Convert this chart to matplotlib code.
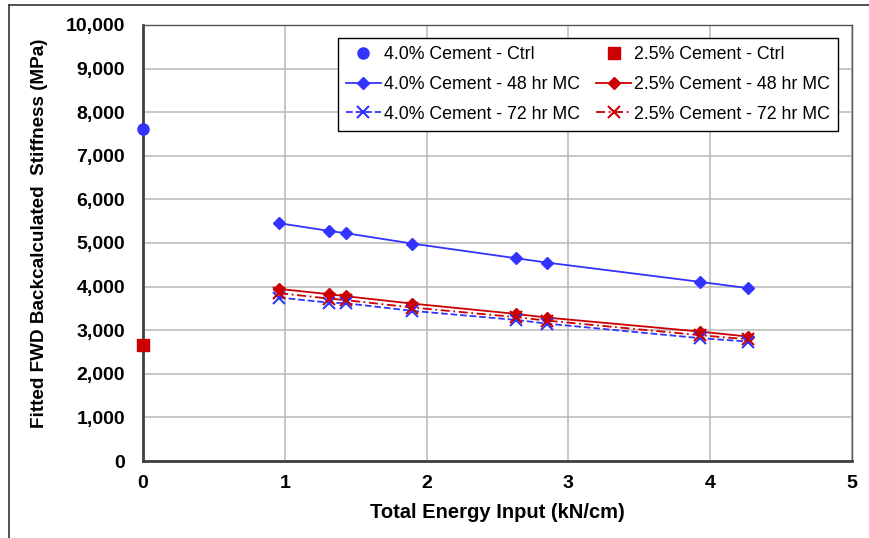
import numpy as np
import matplotlib
matplotlib.use("Agg")
import matplotlib.pyplot as plt
from matplotlib.lines import Line2D
from matplotlib.ticker import FuncFormatter, MultipleLocator

plt.rcParams['font.family'] = ['Liberation Sans', 'DejaVu Sans']

# energy input (kN/cm)
energy = [0.96, 1.31, 1.43, 1.90, 2.63, 2.85, 3.93, 4.27]

# control points at zero energy
ctrl_x = [0.0]
ctrl_40 = [7615]
ctrl_25 = [2665]

# fitted stiffness (MPa)
c40_48 = [5454, 5278, 5225, 4986, 4651, 4550, 4108, 3963]
c25_48 = [3947, 3826, 3780, 3610, 3374, 3289, 2968, 2853]
c40_72 = [3748, 3633, 3619, 3443, 3236, 3151, 2817, 2739]
c25_72 = [3850, 3725, 3690, 3520, 3300, 3220, 2885, 2790]

blue = "#3333ff"
red = "#cc0000"

fig = plt.figure(figsize=(8.69, 5.38), dpi=100)
ax = fig.add_axes([143/869, 1-461/538, (852-143)/869, (461-25)/538])

l1, = ax.plot(ctrl_x, ctrl_40, "o", color=blue, ms=8, clip_on=False, zorder=5)
l2, = ax.plot(ctrl_x, ctrl_25, "s", color=red, ms=8, clip_on=False, zorder=5)
l3, = ax.plot(energy, c40_48, "-D", color=blue, lw=1.3, ms=6)
l4, = ax.plot(energy, c25_48, "-D", color=red, lw=1.3, ms=6)
l5, = ax.plot(energy, c40_72, "--x", color=blue, lw=1.3, ms=8, mew=1.5)
l6, = ax.plot(energy, c25_72, "-.x", color=red, lw=1.3, ms=8, mew=1.5,
              dashes=(5, 2, 1, 2))

ax.set_xlim(0, 5)
ax.set_ylim(0, 10000)
ax.xaxis.set_major_locator(MultipleLocator(1))
ax.yaxis.set_major_locator(MultipleLocator(1000))
ax.yaxis.set_major_formatter(FuncFormatter(lambda v, p: "{:,.0f}".format(v)))
ax.grid(True, color="#bdbdbd", lw=1.2)
ax.set_axisbelow(True)
ax.tick_params(length=0, labelsize=14)
ax.tick_params(axis="y", pad=13)
ax.tick_params(axis="x", pad=10)
for t in ax.get_xticklabels() + ax.get_yticklabels():
    t.set_fontweight("bold")

for s in ["left", "bottom"]:
    ax.spines[s].set_color("#404040")
    ax.spines[s].set_linewidth(2)
for s in ["top", "right"]:
    ax.spines[s].set_color("#555555")
    ax.spines[s].set_linewidth(1)

ax.set_xlabel("Total Energy Input (kN/cm)", fontsize=14.5, fontweight="bold")
ax.set_ylabel("Fitted FWD Backcalculated  Stiffness (MPa)", fontsize=13.6,
              fontweight="bold")
ax.xaxis.set_label_coords(0.4993, -0.096)
ax.yaxis.set_label_coords(-0.134, 0.523)

leg = ax.legend([l1, l3, l5, l2, l4, l6],
                ["4.0% Cement - Ctrl", "4.0% Cement - 48 hr MC", "4.0% Cement - 72 hr MC",
                 "2.5% Cement - Ctrl", "2.5% Cement - 48 hr MC", "2.5% Cement - 72 hr MC"],
                ncol=2, loc="upper right", bbox_to_anchor=(0.980, 0.970),
                borderaxespad=0, fontsize=12.8, fancybox=False, edgecolor="black",
                framealpha=1, handlelength=2.0, handletextpad=0.15,
                columnspacing=0.9, labelspacing=0.72, borderpad=0.45)
leg.get_frame().set_linewidth(1)

# outer frame of the original figure (top and left only)
fig.add_artist(Line2D([9/869, 1], [1-4.5/538, 1-4.5/538], color="#333333", lw=1.2))
fig.add_artist(Line2D([9/869, 9/869], [0, 1-4.5/538], color="#333333", lw=1.2))

fig.savefig("out.png", dpi=100)
